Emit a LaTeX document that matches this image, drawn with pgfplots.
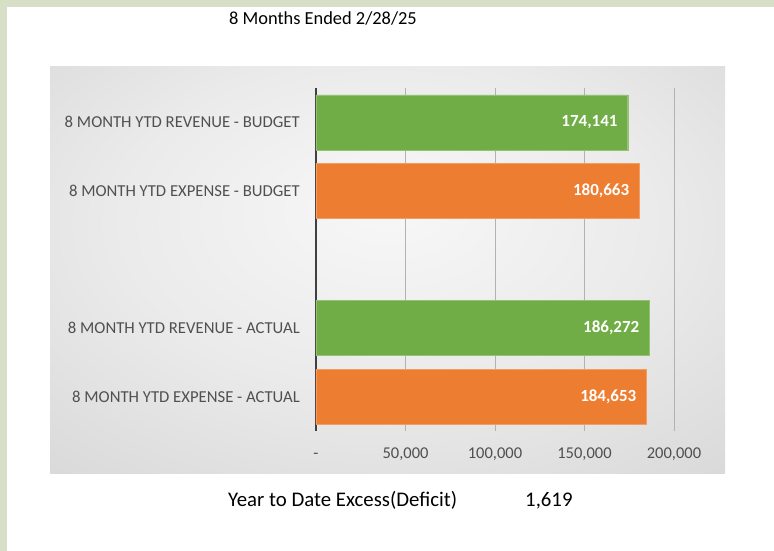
\documentclass[border=0pt]{standalone}
\usepackage{pgfplots}
\pgfplotsset{compat=1.18}
\usepackage{fontspec}
\setmainfont{Carlito}
\definecolor{gbar}{HTML}{70AD47}
\definecolor{obar}{HTML}{ED7D31}
\definecolor{framec}{HTML}{D7E0C6}
\definecolor{lbl}{HTML}{505050}
\pgfdeclareradialshading{plotbg}{\pgfpoint{0bp}{8bp}}{color(0bp)=(black!3); color(20bp)=(black!8); color(50bp)=(black!19); color(75bp)=(black!27)}
\begin{document}
\begin{tikzpicture}
\fill[white] (0pt,0pt) rectangle (774pt,551pt);
\fill[framec] (0pt,0pt) rectangle (7pt,551pt);
\fill[framec] (0pt,544pt) rectangle (774pt,551pt);
\shade[shading=plotbg] (50pt,77pt) rectangle (725pt,484pt);
\node[font=\fontsize{18.4}{21}\selectfont, anchor=base, inner sep=0pt] at (323pt,526pt) {8 Months Ended 2/28/25};
\node[font=\fontsize{20.8}{24}\selectfont, anchor=base west, inner sep=0pt] at (228pt,44pt) {Year to Date Excess(Deficit)};
\node[font=\fontsize{20.8}{24}\selectfont, anchor=base west, inner sep=0pt] at (525pt,44pt) {1,619};
\begin{axis}[
  at={(316pt,120pt)}, anchor=south west, scale only axis,
  width=358pt, height=343pt,
  xmin=0, xmax=200000, ymin=-0.5, ymax=4.5, y dir=reverse,
  xbar, bar width=55pt, bar shift=0pt,
  axis x line*=bottom, axis y line*=left,
  x axis line style={draw=none},
  y axis line style={draw=black!75, line width=1.5pt},
  xtick={0,50000,100000,150000,200000},
  xticklabels={{-},{50,000},{100,000},{150,000},{200,000}},
  scaled x ticks=false,
  xmajorgrids, major grid style={draw=black!30, line width=0.7pt},
  major tick length=0pt,
  xticklabel style={font=\fontsize{16.5}{19}\selectfont, text=lbl, anchor=base, yshift=-27pt},
  ytick={0,1,3,4},
  yticklabels={8 MONTH YTD REVENUE - BUDGET,8 MONTH YTD EXPENSE - BUDGET,8 MONTH YTD REVENUE - ACTUAL,8 MONTH YTD EXPENSE - ACTUAL},
  yticklabel style={font=\fontsize{16.7}{19}\selectfont, text=lbl, anchor=east, inner sep=0pt, xshift=-16pt},
  /pgf/number format/.cd, fixed, precision=0, 1000 sep={,}, assume math mode=true,
  /pgfplots/.cd,
  nodes near coords,
  every node near coord/.append style={anchor=east, inner sep=0pt, xshift=-10pt, text=white, font=\bfseries\fontsize{17}{19}\selectfont},
]
\addplot[fill=gbar, draw=gbar!75!white] coordinates {(174141,0) (186272,3)};
\addplot[fill=obar, draw=obar!75!white] coordinates {(180663,1) (184653,4)};
\end{axis}
\end{tikzpicture}
\end{document}
